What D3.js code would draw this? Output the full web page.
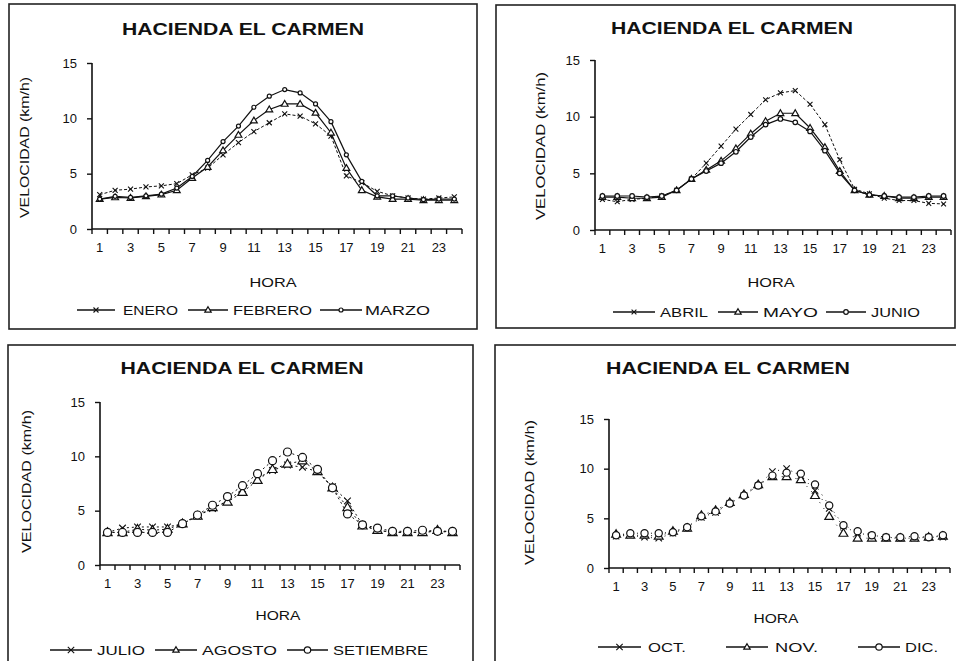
<!DOCTYPE html>
<html>
<head>
<meta charset="utf-8">
<script src="https://cdn.jsdelivr.net/npm/d3@7"></script>
<style>
  html, body { margin: 0; padding: 0; background: #fff; }
  svg { display: block; }
  text { font-family: "Liberation Sans", Arial, sans-serif; fill: #111; }
</style>
</head>
<body>
<svg id="chart" width="956" height="661"></svg>
<script>
// Hourly mean wind speed (km/h), Hacienda El Carmen
const hours = [1,2,3,4,5,6,7,8,9,10,11,12,13,14,15,16,17,18,19,20,21,22,23,24];
const hourLabels = [1,3,5,7,9,11,13,15,17,19,21,23];
const yTicks = [0,5,10,15];
const titleText = "HACIENDA EL CARMEN";
const xTitle = "HORA";
const yTitle = "VELOCIDAD (km/h)";

const enero    = [3.1,3.5,3.6,3.8,3.9,4.1,4.9,5.5,6.7,7.8,8.8,9.6,10.4,10.2,9.5,8.4,4.8,4.2,3.4,3.0,2.8,2.7,2.8,2.9];
const febrero  = [2.7,2.85,2.8,2.95,3.1,3.5,4.6,5.6,7.1,8.5,9.8,10.8,11.3,11.3,10.5,8.7,5.5,3.5,2.9,2.7,2.7,2.6,2.6,2.6];
const marzo    = [2.7,2.95,2.85,3.0,3.15,3.7,4.75,6.2,7.9,9.3,11.0,12.0,12.6,12.3,11.3,9.7,6.7,4.3,3.0,3.0,2.8,2.65,2.7,2.7];

const abril    = [2.7,2.5,2.7,2.8,3.0,3.5,4.5,5.9,7.4,8.9,10.2,11.5,12.1,12.3,11.1,9.3,6.2,3.6,3.2,2.8,2.6,2.6,2.35,2.3];
const mayo     = [2.9,2.9,2.8,2.8,2.9,3.5,4.5,5.3,6.1,7.2,8.5,9.6,10.3,10.3,9.0,7.3,5.2,3.5,3.1,3.0,2.8,2.8,2.9,2.9];
const junio    = [3.0,3.0,3.0,2.9,3.0,3.5,4.5,5.2,5.9,6.9,8.2,9.3,9.8,9.5,8.7,7.0,5.0,3.5,3.1,3.0,2.9,2.9,3.0,3.0];

const julio    = [3.0,3.4,3.5,3.5,3.5,3.8,4.5,5.2,5.9,7.0,8.0,8.7,9.2,9.0,8.6,7.2,5.9,3.7,3.2,3.0,3.0,3.0,3.1,3.0];
const agosto   = [3.0,3.0,3.3,3.2,3.3,3.8,4.5,5.3,5.8,6.7,7.8,8.8,9.3,9.6,8.6,7.1,5.3,3.6,3.2,3.0,3.0,3.0,3.2,3.0];
const setiembre= [3.0,3.0,3.0,3.0,3.0,3.8,4.6,5.5,6.3,7.3,8.4,9.6,10.4,9.9,8.8,7.1,4.7,3.7,3.4,3.1,3.1,3.2,3.1,3.1];

const octubre  = [3.2,3.3,3.1,3.0,3.5,4.0,5.1,5.6,6.5,7.3,8.3,9.7,10.0,9.3,7.8,6.0,4.2,3.5,3.3,3.1,3.0,3.0,3.1,3.1];
const noviembre= [3.4,3.3,3.3,3.2,3.7,4.0,5.3,5.8,6.6,7.4,8.4,9.2,9.2,8.9,7.3,5.2,3.5,3.0,3.0,3.0,3.0,3.0,3.1,3.2];
const diciembre= [3.3,3.5,3.5,3.5,3.6,4.1,5.2,5.7,6.5,7.3,8.3,9.3,9.6,9.5,8.4,6.3,4.3,3.7,3.3,3.1,3.1,3.2,3.1,3.3];

const svg = d3.select("#chart");
const ink = "#111";

// Panel layout: frame, plot area, text anchors and legend slots
const panels = [
  {
    frame: [9, 4, 477, 329], plot: { x0: 92, x1: 462, yBottom: 229, yTop: 63 },
    title: [243, 35, 242], ylab: [25, 147.5, 141], hora: [273, 287, 47], legendY: 310,
    series: [
      { name: "ENERO",   values: enero,   marker: "x",    size: 2.5, dash: "3,2", legend: [77,115,123,178] },
      { name: "FEBRERO", values: febrero, marker: "tri",  size: 3.4, dash: null,  legend: [188,228,233,312] },
      { name: "MARZO",   values: marzo,   marker: "circ", size: 2.0, dash: null,  legend: [320,362,365,430] }
    ]
  },
  {
    frame: [496, 5, 955, 328], plot: { x0: 595, x1: 951, yBottom: 230, yTop: 60 },
    title: [732, 34, 242], ylab: [541, 146, 148], hora: [771, 287, 47], legendY: 312,
    series: [
      { name: "ABRIL", values: abril, marker: "x",    size: 2.4, dash: "3,2", legend: [613,655,660,708] },
      { name: "MAYO",  values: mayo,  marker: "tri",  size: 3.4, dash: null,  legend: [718,758,763,818] },
      { name: "JUNIO", values: junio, marker: "circ", size: 2.3, dash: null,  legend: [826,866,871,920] }
    ]
  },
  {
    frame: [8, 345, 473, 720], plot: { x0: 100, x1: 460, yBottom: 565, yTop: 402 },
    title: [242, 374, 243], ylab: [27, 481.5, 143], hora: [278, 620, 45], legendY: 650,
    series: [
      { name: "JULIO",     values: julio,     marker: "x",    size: 3.3, dash: "2,3", legend: [50,92,97,145] },
      { name: "AGOSTO",    values: agosto,    marker: "tri",  size: 4.6, dash: "2,3", legend: [155,197,202,277] },
      { name: "SETIEMBRE", values: setiembre, marker: "circ", size: 4.0, dash: "2,3", legend: [287,328,333,428] }
    ]
  },
  {
    frame: [495, 345, 975, 720], plot: { x0: 609, x1: 950, yBottom: 568, yTop: 419 },
    title: [728, 374, 244], ylab: [530, 492.5, 145], hora: [776, 623, 45], legendY: 647,
    series: [
      { name: "OCT.", values: octubre,   marker: "x",    size: 3.2, dash: "1,6", legend: [598,641,648,686] },
      { name: "NOV.", values: noviembre, marker: "tri",  size: 4.4, dash: "1,6", legend: [726,768,775,818] },
      { name: "DIC.", values: diciembre, marker: "circ", size: 3.6, dash: "1,6", legend: [858,900,905,938] }
    ]
  }
];

function drawMarker(g, type, cx, cy, s) {
  if (type === "x") {
    g.append("path")
      .attr("d", `M${cx - s},${cy - s}L${cx + s},${cy + s}M${cx - s},${cy + s}L${cx + s},${cy - s}`)
      .attr("stroke", ink).attr("stroke-width", 1.1).attr("fill", "none");
  } else if (type === "tri") {
    const h = s * 1.7;
    g.append("path")
      .attr("d", `M${cx},${cy - h * 0.6}L${cx + s},${cy + h * 0.4}L${cx - s},${cy + h * 0.4}Z`)
      .attr("stroke", ink).attr("stroke-width", 1.2).attr("fill", "#fff");
  } else {
    g.append("circle").attr("cx", cx).attr("cy", cy).attr("r", s)
      .attr("stroke", ink).attr("stroke-width", 1.2).attr("fill", "#fff");
  }
}

panels.forEach(p => {
  const g = svg.append("g");
  const [fx0, fy0, fx1, fy1] = p.frame;
  g.append("rect").attr("x", fx0).attr("y", fy0)
    .attr("width", fx1 - fx0).attr("height", fy1 - fy0)
    .attr("fill", "none").attr("stroke", "#222").attr("stroke-width", 1.6);

  const x = d3.scaleBand().domain(hours).range([p.plot.x0, p.plot.x1]).paddingInner(0).paddingOuter(0);
  const y = d3.scaleLinear().domain([0, 15]).range([p.plot.yBottom, p.plot.yTop]);
  const cx = h => x(h) + x.bandwidth() / 2;

  // Title
  g.append("text").attr("x", p.title[0] - p.title[2] / 2).attr("y", p.title[1])
    .attr("textLength", p.title[2]).attr("lengthAdjust", "spacingAndGlyphs")
    .attr("font-size", 16).attr("font-weight", "bold").text(titleText);

  // Y axis
  const yAxis = g.append("g").attr("transform", `translate(${p.plot.x0},0)`)
    .call(d3.axisLeft(y).tickValues(yTicks).tickSize(5).tickPadding(10).tickFormat(d3.format("d")));
  yAxis.select(".domain").attr("stroke", ink).attr("stroke-width", 1.6).attr("d", `M0,${p.plot.yTop}V${p.plot.yBottom}`);
  yAxis.selectAll(".tick line").attr("stroke", ink).attr("stroke-width", 1.4);
  yAxis.selectAll(".tick text").attr("font-size", 13).attr("fill", ink)
    .attr("font-family", "Liberation Sans, Arial, sans-serif");

  // X axis: labels on odd hours, tick marks on every band edge
  const xAxis = g.append("g").attr("transform", `translate(0,${p.plot.yBottom})`)
    .call(d3.axisBottom(x).tickValues(hourLabels).tickSize(0).tickPadding(14));
  xAxis.select(".domain").attr("stroke", ink).attr("stroke-width", 1.6).attr("d", `M${p.plot.x0},0H${p.plot.x1}`);
  xAxis.selectAll(".tick text").attr("font-size", 13).attr("fill", ink)
    .attr("font-family", "Liberation Sans, Arial, sans-serif");
  const edges = hours.map(h => x(h)).concat([p.plot.x1]);
  xAxis.selectAll("line.edge").data(edges).join("line").attr("class", "edge")
    .attr("x1", d => d).attr("x2", d => d).attr("y1", 0).attr("y2", 5)
    .attr("stroke", ink).attr("stroke-width", 1.4);

  // Axis titles
  g.append("text").attr("x", p.hora[0] - p.hora[2] / 2).attr("y", p.hora[1])
    .attr("textLength", p.hora[2]).attr("lengthAdjust", "spacingAndGlyphs")
    .attr("font-size", 13).text(xTitle);
  g.append("text")
    .attr("transform", `translate(${p.ylab[0] + 4},${p.ylab[1] + p.ylab[2] / 2}) rotate(-90)`)
    .attr("textLength", p.ylab[2]).attr("lengthAdjust", "spacingAndGlyphs")
    .attr("font-size", 13).text(yTitle);

  // Series
  const line = d3.line().x((d, i) => cx(hours[i])).y(d => y(d));
  p.series.forEach(s => {
    g.append("path").datum(s.values).attr("d", line)
      .attr("fill", "none").attr("stroke", ink)
      .attr("stroke-width", s.dash ? 1 : 1.2)
      .attr("stroke-dasharray", s.dash);
  });
  p.series.forEach(s => {
    s.values.forEach((v, i) => drawMarker(g, s.marker, cx(hours[i]), y(v), s.size));
  });

  // Legend
  p.series.forEach(s => {
    const [l0, l1, t0, t1] = s.legend;
    const ly = p.legendY;
    g.append("line").attr("x1", l0).attr("x2", l1).attr("y1", ly).attr("y2", ly)
      .attr("stroke", ink).attr("stroke-width", 1.3);
    drawMarker(g, s.marker, (l0 + l1) / 2, ly, Math.min(s.size, 3.2));
    g.append("text").attr("x", t0).attr("y", ly + 5)
      .attr("textLength", t1 - t0).attr("lengthAdjust", "spacingAndGlyphs")
      .attr("font-size", 13).text(s.name);
  });
});
</script>
</body>
</html>
